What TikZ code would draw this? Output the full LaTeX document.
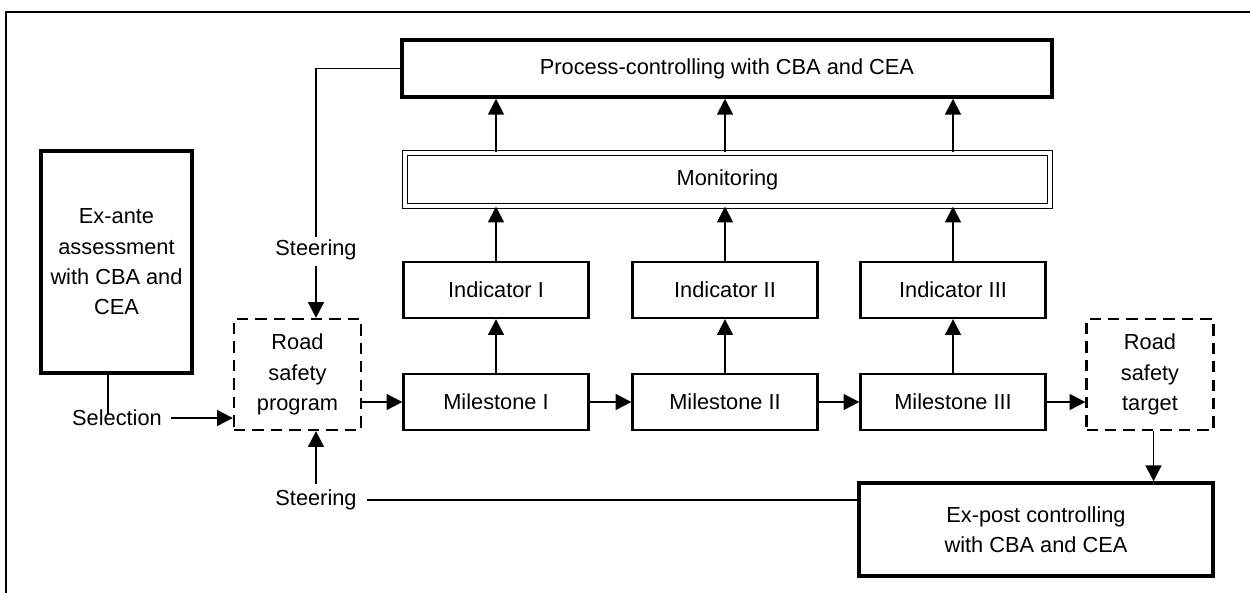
\documentclass[tikz,border=0pt]{standalone}
\usepackage{fontspec}
\setmainfont{Liberation Sans}
\usetikzlibrary{arrows.meta}

\begin{document}
\begin{tikzpicture}[x=0.02cm, y=-0.02cm,
  every node/.style={font=\fontsize{12.4}{17.3}\selectfont, align=center, inner sep=0pt},
  box/.style={draw, line width=1.3pt, minimum width=3.7cm, minimum height=1.12cm},
  bigbox/.style={draw, line width=2pt},
  dbox/.style={draw, dashed, dash pattern=on 6.5pt off 4pt, line width=1.3pt, minimum width=2.54cm, minimum height=2.22cm},
  arr/.style={line width=1.1pt, -{Triangle[length=9pt,width=9pt]}},
  ln/.style={line width=1pt}]
\useasboundingbox (0,0) rectangle (1250,592);
\draw[line width=0.9pt] (6,600) -- (6,12) -- (1260,12);

\node[bigbox, minimum width=13cm, minimum height=1.14cm] (process) at (727,68.5) {Process-controlling with CBA and CEA};
\node[draw, line width=0.6pt, double, double distance=2pt, minimum width=12.9cm, minimum height=1.06cm] (monitor) at (727.5,179.5) {Monitoring};
\node[bigbox, minimum width=3.02cm, minimum height=4.44cm] (exante) at (116.5,262) {Ex-ante\\assessment\\with CBA and\\CEA};
\node[dbox] (program) at (297.5,374.5) {Road\\safety\\program};
\node[dbox] (target) at (1150,374.5) {Road\\safety\\target};
\node[bigbox, minimum width=7.08cm, minimum height=1.86cm] (expost) at (1036,529.5) {Ex-post controlling\\with CBA and CEA};
\node (steertop) at (316,250) {Steering};
\node (steerbot) at (316,500) {Steering};
\node (select) at (117,418) {Selection};

\foreach \i/\n/\x in {1/I/496,2/II/725,3/III/953} {
  \node[box] (ind\i) at (\x,290) {Indicator \n};
  \node[box] (ms\i) at (\x,402) {Milestone \n};
  \draw[arr] (ms\i) -- (ind\i);
  \draw[arr] (ind\i.north) -- (ind\i.north |- monitor.south);
  \draw[arr] (ind\i.north |- monitor.north) -- (ind\i.north |- process.south);
}

\draw[arr] (program.east |- ms1) -- (ms1.west);
\draw[arr] (ms1) -- (ms2);
\draw[arr] (ms2) -- (ms3);
\draw[arr] (ms3.east) -- (target.west |- ms3);
\draw[arr] ([xshift=2]target.south) -- ([xshift=2]target.south |- expost.north);

\draw[ln] ([yshift=1.5]steertop.north) |- (process.west);
\draw[arr] ([yshift=-3]steertop.south) -- (steertop.south |- program.north);
\draw[arr] ([yshift=3]steerbot.north) -- (steerbot.north |- program.south);
\draw[ln] ([xshift=6]steerbot.east) -- (expost.west |- steerbot.east);

\draw[ln] ([xshift=-5]exante.south) -- ([xshift=-5,yshift=-3]select.north -| exante.south);
\draw[arr] ([xshift=5]select.east) -- (program.west |- select.east);
\end{tikzpicture}
\end{document}
